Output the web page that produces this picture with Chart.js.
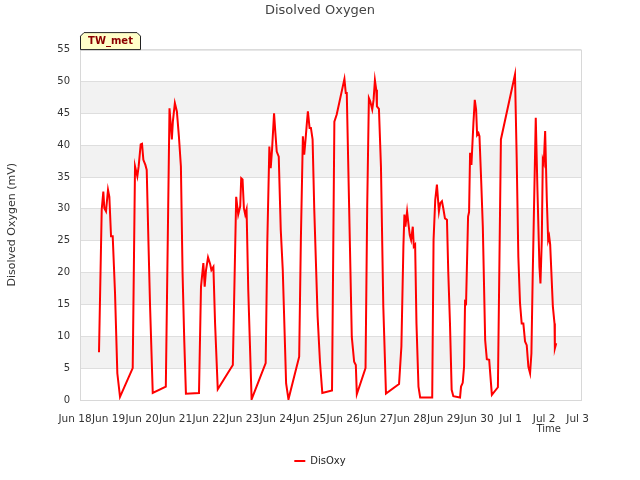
<!DOCTYPE html>
<html>
<head>
<meta charset="utf-8">
<title>Disolved Oxygen</title>
<script src="https://cdn.jsdelivr.net/npm/chart.js@4.4.0/dist/chart.umd.min.js"></script>
<style>
  html, body { margin: 0; padding: 0; background: #fff; }
  #wrap { width: 640px; height: 480px; }
</style>
</head>
<body>
<div id="wrap"><canvas id="doChart" width="640" height="480"></canvas></div>
<script>
// days since Jun 18 00:00
const sampleDay = [
  0.716, 0.797, 0.845, 0.875, 0.925, 0.985, 1.025, 1.075, 1.125, 1.194, 1.263, 1.343,
  1.722, 1.791, 1.86, 1.90, 1.96, 2.0, 2.04, 2.1, 2.14, 2.19, 2.24, 2.32,
  2.71, 2.82, 2.89, 2.92, 2.98, 3.04, 3.10, 3.16, 3.21, 3.26, 3.31,
  3.70, 3.76, 3.83, 3.87, 3.91, 3.97, 4.03, 4.07, 4.13, 4.18, 4.26,
  4.71, 4.81, 4.87, 4.93, 4.96, 5.0, 5.04, 5.08, 5.12, 5.17, 5.27,
  5.69, 5.74, 5.80, 5.84, 5.88, 5.94, 5.98, 6.02, 6.08, 6.14, 6.20, 6.30, 6.37,
  6.69, 6.74, 6.80, 6.84, 6.88, 6.92, 6.95, 7.0, 7.04, 7.09, 7.14, 7.24, 7.31, 7.38,
  7.67, 7.74, 7.81, 8.04, 8.08, 8.11, 8.18, 8.26, 8.33, 8.38, 8.41,
  8.67, 8.72, 8.77, 8.81, 8.87, 8.91, 8.95, 8.99, 9.01, 9.07, 9.13, 9.20, 9.28,
  9.67, 9.74, 9.80, 9.83, 9.86, 9.91, 9.95, 9.99, 10.03, 10.08, 10.11, 10.15, 10.19, 10.25, 10.30,
  10.66, 10.70, 10.75, 10.80, 10.86, 10.90, 10.95, 10.99, 11.04, 11.10, 11.14, 11.19, 11.24, 11.29,
  11.49, 11.52, 11.57, 11.61, 11.64, 11.67, 11.73, 11.76, 11.79, 11.83, 11.89, 11.93, 11.97, 12.0,
  12.04, 12.07, 12.12, 12.17, 12.24, 12.29, 12.36, 12.44,
  12.62, 12.71, 13.13, 13.18, 13.23, 13.28, 13.33, 13.38, 13.43, 13.48, 13.53, 13.58, 13.62, 13.66,
  13.75, 13.80, 13.86, 13.89, 13.93, 13.96, 13.99, 14.03, 14.08, 14.12, 14.15, 14.18, 14.26, 14.31, 14.32, 14.36
];
const disOxy = [
  7.5, 29.9, 32.7, 30.1, 29.6, 33.0, 31.9, 25.7, 25.7, 16.8, 4.2, 0.5,
  5.0, 36.7, 35.1, 36.7, 40.1, 40.2, 37.7, 36.9, 36.1, 25.1, 14.7, 1.1,
  2.1, 45.8, 40.9, 43.7, 46.6, 45.3, 41.4, 36.7, 19.9, 9.4, 1.0,
  1.1, 17.8, 21.5, 17.8, 20.4, 22.4, 21.4, 20.4, 20.9, 12.0, 1.7,
  5.5, 31.9, 29.1, 30.4, 34.8, 34.6, 30.1, 29.1, 29.9, 17.3, 0.1,
  5.8, 25.1, 39.8, 36.4, 39.3, 45.0, 41.9, 39.0, 38.2, 26.7, 20.4, 2.6, 0.1,
  6.8, 25.1, 41.4, 38.5, 40.9, 43.5, 45.3, 42.7, 42.7, 40.9, 29.9, 13.1, 6.0, 1.1,
  1.5, 43.7, 44.8, 50.4, 48.2, 48.2, 30.4, 9.9, 6.0, 5.5, 0.9,
  5.0, 30.4, 47.4, 46.9, 45.6, 47.1, 50.2, 48.7, 46.1, 45.7, 36.7, 14.7, 1.0,
  2.5, 8.4, 24.1, 29.1, 27.2, 29.6, 27.7, 25.9, 25.1, 27.2, 24.1, 24.4, 12.0, 2.1, 0.4,
  0.4, 25.1, 31.4, 33.8, 29.6, 30.9, 31.2, 30.1, 28.5, 28.3, 19.9, 12.0, 1.6, 0.6,
  0.4, 2.1, 2.7, 5.2, 15.4, 15.2, 28.8, 29.5, 38.8, 36.9, 43.5, 47.1, 45.6, 41.6,
  41.9, 41.4, 34.6, 27.2, 9.4, 6.4, 6.3, 0.8,
  2.0, 40.9, 51.1, 38.2, 22.5, 15.2, 12.0, 12.0, 9.2, 8.6, 5.2, 4.2, 7.3, 19.9,
  44.3, 33.0, 20.9, 18.3, 25.1, 37.7, 37.2, 42.2, 31.4, 25.1, 25.7, 24.4, 14.7, 12.0, 8.1, 8.9
];
const tickDays = [0, 1, 2, 3, 4, 5, 6, 7, 8, 9, 10, 11, 12, 13, 14, 15];
const tickLabels = ['Jun 18', 'Jun 19', 'Jun 20', 'Jun 21', 'Jun 22', 'Jun 23', 'Jun 24', 'Jun 25',
  'Jun 26', 'Jun 27', 'Jun 28', 'Jun 29', 'Jun 30', 'Jul 1', 'Jul 2', 'Jul 3'];

Chart.defaults.font.family = "'DejaVu Sans', sans-serif";
Chart.defaults.color = '#333';

// gray bands + frame + site label + "Time"
const decorations = {
  id: 'decorations',
  beforeDraw(chart) {
    const {ctx, chartArea: a, scales: {y}} = chart;
    ctx.save();
    ctx.fillStyle = '#fff';
    ctx.fillRect(0, 0, chart.width, chart.height);
    ctx.fillStyle = '#f2f2f2';
    for (let v = 5; v < 55; v += 10) {
      const top = y.getPixelForValue(v + 5), bot = y.getPixelForValue(v);
      ctx.fillRect(a.left, top, a.right - a.left, bot - top);
    }
    ctx.restore();
  },
  afterDraw(chart) {
    const {ctx, chartArea: a} = chart;
    ctx.save();
    ctx.strokeStyle = '#d8d8d8';
    ctx.lineWidth = 1;
    ctx.strokeRect(a.left + 0.5, a.top + 0.5, a.right - a.left, a.bottom - a.top);

    // TW_met tag
    const x0 = a.left, x1 = a.left + 61, y0 = a.top - 17.5, y1 = a.top, c = 4;
    ctx.beginPath();
    ctx.moveTo(x0 + 0.5, y1);
    ctx.lineTo(x0 + 0.5, y0 + c);
    ctx.lineTo(x0 + c, y0 + 0.5);
    ctx.lineTo(x1 - c, y0 + 0.5);
    ctx.lineTo(x1 - 0.5, y0 + c);
    ctx.lineTo(x1 - 0.5, y1);
    ctx.closePath();
    ctx.fillStyle = '#ffffc8';
    ctx.fill();
    ctx.strokeStyle = '#222';
    ctx.stroke();
    ctx.fillStyle = '#8b0000';
    ctx.font = "bold 10px 'DejaVu Sans'";
    ctx.textAlign = 'center';
    ctx.textBaseline = 'middle';
    ctx.fillText('TW_met', (x0 + x1) / 2, (y0 + y1) / 2 + 1);

    ctx.fillStyle = '#333';
    ctx.font = "10px 'DejaVu Sans'";
    ctx.textAlign = 'right';
    ctx.textBaseline = 'middle';
    ctx.fillText('Time', a.right - 20, a.bottom + 29);
    ctx.restore();
  }
};

const ctx = document.getElementById('doChart').getContext('2d');
new Chart(ctx, {
  type: 'line',
  data: {
    datasets: [{
      label: 'DisOxy',
      data: sampleDay.map((d, i) => ({x: d, y: disOxy[i]})),
      borderColor: '#ff0000',
      backgroundColor: '#ff0000',
      borderWidth: 2,
      pointRadius: 0,
      tension: 0,
      fill: false
    }]
  },
  options: {
    responsive: false,
    animation: false,
    layout: { padding: { left: 0, right: 0, top: 0, bottom: 4 } },
    plugins: {
      title: {
        display: true,
        text: 'Disolved Oxygen',
        color: '#444',
        font: { size: 13, weight: 'normal' },
        padding: { top: 3, bottom: 31 }
      },
      legend: {
        position: 'bottom',
        labels: {
          usePointStyle: true,
          pointStyle: 'line',
          pointStyleWidth: 11,
          font: { size: 10 },
          color: '#222'
        }
      },
      tooltip: { enabled: false }
    },
    scales: {
      x: {
        type: 'linear',
        min: 0.149,
        max: 15.10,
        afterBuildTicks: s => { s.ticks = tickDays.map(v => ({value: v})); },
        afterFit: s => { s.height = 46; },
        ticks: {
          autoSkip: false,
          maxRotation: 0,
          padding: 5,
          font: { size: 10.5 },
          color: '#333',
          callback: (v, i) => tickLabels[i]
        },
        grid: { display: false },
        border: { display: true, color: '#d8d8d8' }
      },
      y: {
        min: 0,
        max: 55,
        afterFit: s => { s.width = 80; },
        ticks: { stepSize: 5, padding: 10, font: { size: 10 }, color: '#333' },
        grid: { color: '#dedede', drawTicks: false },
        border: { display: true, color: '#d8d8d8' },
        title: {
          display: true,
          text: 'Disolved Oxygen (mV)',
          color: '#333',
          font: { size: 11 },
          padding: { top: 6, bottom: 0 }
        }
      },
      // empty right margin so the chart box ends at the same place as the reference
      yRight: {
        position: 'right',
        afterFit: s => { s.width = 59; },
        ticks: { display: false },
        grid: { display: false },
        border: { display: false }
      }
    }
  },
  plugins: [decorations]
});
</script>
</body>
</html>
